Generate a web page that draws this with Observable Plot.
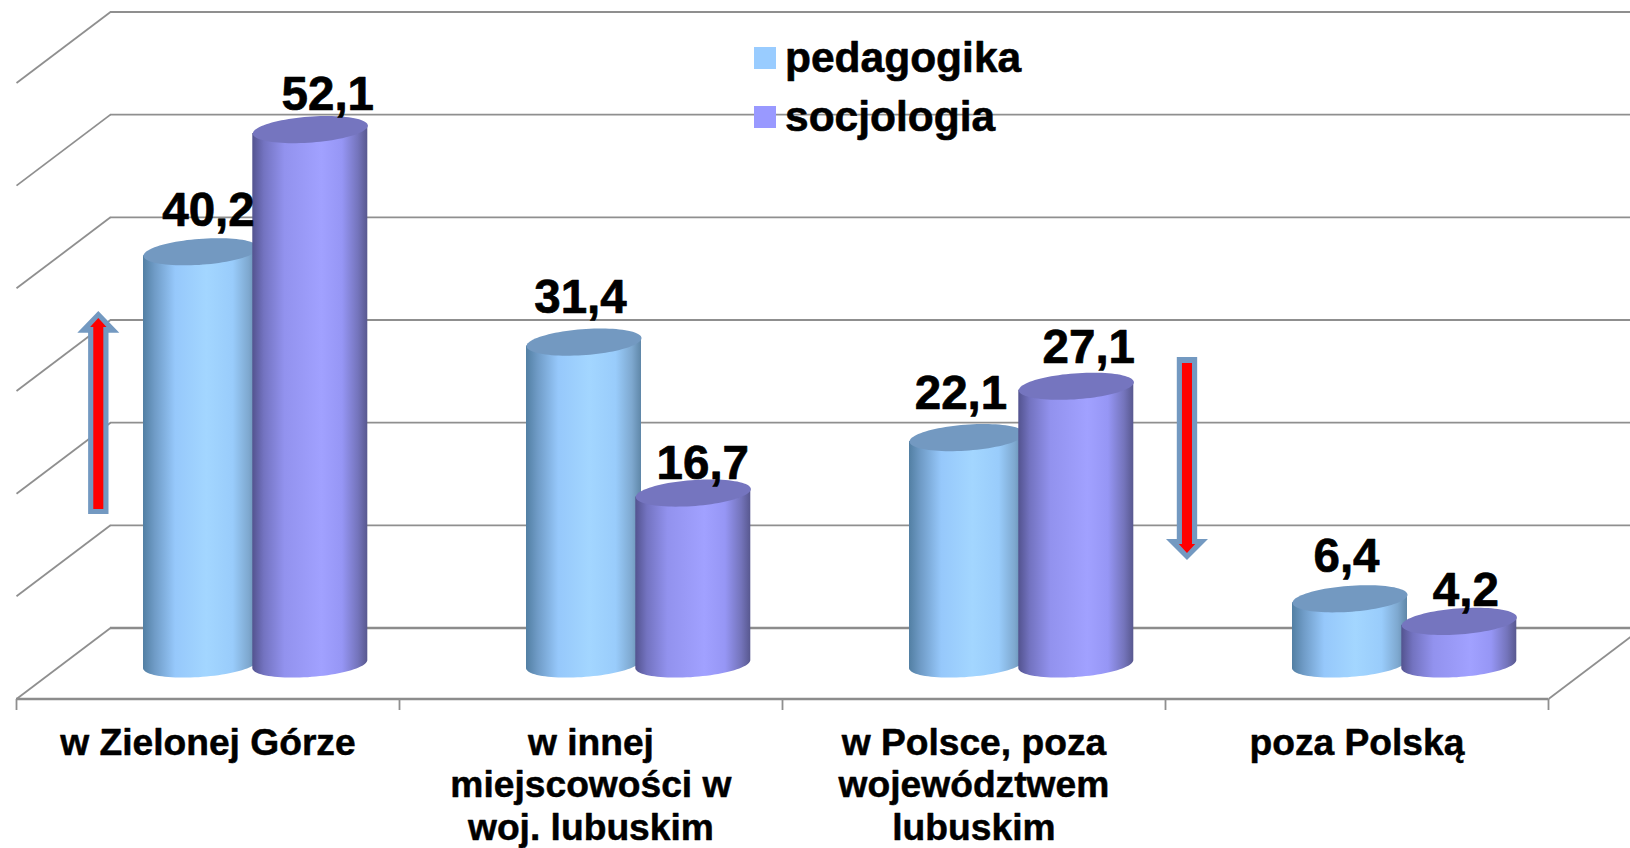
<!DOCTYPE html>
<html><head><meta charset="utf-8">
<script src="https://cdn.jsdelivr.net/npm/d3@7"></script>
<script src="https://cdn.jsdelivr.net/npm/@observablehq/plot@0.6"></script>
<style>html,body{margin:0;padding:0;background:#fff;overflow:hidden}</style>
</head><body><div id="chart"></div>
<script>
const categories = ["w Zielonej Górze","w innej miejscowości w woj. lubuskim","w Polsce, poza województwem lubuskim","poza Polską"];
const categoryLines = [["w Zielonej Górze"],["w innej","miejscowości w","woj. lubuskim"],["w Polsce, poza","województwem","lubuskim"],["poza Polską"]];
const seriesNames = ["pedagogika","socjologia"];
const pedagogika = [40.2,31.4,22.1,6.4];
const socjologia = [52.1,16.7,27.1,4.2];
const valueTicks = [0,10,20,30,40,50,60];

// layout (separate from the data)
const W=1630,H=848, catPx=383, x0Px=16, y0Px=627.5, unitPx=10.267;
const depthX=94/catPx, depthY=71/unitPx;
const barW=115/catPx, barStart=[127/catPx,236.3/catPx];
const shearY=4/unitPx, bulgeY=13/unitPx, baseDrop=36.5/unitPx;
const labelNudge=[[[7.5,-9],[17.5,-3]],[[-3.5,-12],[9.5,3]],[[-6,-12],[12.5,-6]],[[-3.5,-10],[6.5,2]]];

const ts=d3.range(0,361,4).map(d=>d*Math.PI/180);
function capRing(c,s,v){const cx=c+barStart[s]+barW/2;
  return ts.map(t=>({x:cx+barW/2*Math.cos(t),y:v-baseDrop+shearY*Math.cos(t)+bulgeY*Math.sin(t)}));}
function body(c,s,v){const cx=c+barStart[s]+barW/2;
  return d3.range(0,181,4).map(a=>{const t=a*Math.PI/180; const sh=shearY*Math.cos(t), b=bulgeY*Math.sin(t);
    return {x:cx+barW/2*Math.cos(t),y1:v-baseDrop+sh,y2:-baseDrop+sh-b};});}

const fills=[{grad:"gradBlue",top:"#7399c1",flat:"#99ccff"},{grad:"gradPurple",top:"#7575bf",flat:"#9999ff"}];
const defs=()=>{const d=d3.create("svg:defs");
  const mk=(id,stops)=>{const g=d.append("linearGradient").attr("id",id);
    stops.forEach(([o,c])=>g.append("stop").attr("offset",o).attr("stop-color",c));};
  mk("gradBlue",[[0,"#527fa3"],[.1,"#6f9bc6"],[.28,"#96c8fb"],[.55,"#a3d6ff"],[.78,"#99ccfb"],[.92,"#7ea8cf"],[1,"#5f87a8"]]);
  mk("gradPurple",[[0,"#53538f"],[.1,"#7373c0"],[.28,"#9292ee"],[.6,"#a1a1ff"],[.78,"#9696f5"],[.92,"#7474bb"],[1,"#58588f"]]);
  return d.node();};

const marks=[defs];
const rightEdge=(W-x0Px)/catPx;
const gridStyle={stroke:"#8f8f8f",strokeWidth:1.8};
const floorStyle={stroke:"#8c8c8c",strokeWidth:2.6};
marks.push(Plot.ruleY(valueTicks.filter(v=>v>0),{x1:depthX,x2:rightEdge,...gridStyle}));
marks.push(Plot.ruleY([0],{x1:depthX,x2:rightEdge,...floorStyle}));
marks.push(Plot.link(valueTicks,{x1:0,y1:v=>v-depthY,x2:depthX,y2:v=>v,...gridStyle}));
marks.push(Plot.ruleY([-depthY],{x1:0,x2:4,...floorStyle}));
marks.push(Plot.link([0,1,2,3,4],{x1:d=>d,x2:d=>d,y1:-depthY,y2:-depthY-11/unitPx,...gridStyle}));
marks.push(Plot.link([4],{x1:4,y1:-depthY,x2:rightEdge,y2:-depthY+(W-x0Px-4*catPx)*(71/94)/unitPx,...gridStyle}));

// cylinders
categories.forEach((_,c)=>{
  [pedagogika,socjologia].forEach((vals,s)=>{
    marks.push(Plot.areaY(body(c,s,vals[c]),{x:"x",y1:"y1",y2:"y2",fill:`url(#${fills[s].grad})`}));
    marks.push(Plot.line(capRing(c,s,vals[c]),{x:"x",y:"y",fill:fills[s].top,stroke:"none"}));
  });
});

// value labels
const heavy={fill:"#000",stroke:"#000",strokeWidth:0.7,fontWeight:700};
categories.forEach((_,c)=>{
  [pedagogika,socjologia].forEach((vals,s)=>{
    const v=vals[c];
    marks.push(Plot.text([v],{x:c+barStart[s]+barW/2,y:v-baseDrop+bulgeY+shearY,text:d=>String(d).replace(".",","),
      dx:labelNudge[c][s][0],dy:labelNudge[c][s][1],textAnchor:"middle",lineAnchor:"bottom",fontSize:47.5,...heavy}));
  });
});

// category labels
categoryLines.forEach((lines,c)=>{
  lines.forEach((t,i)=>{
    marks.push(Plot.text([t],{x:c+0.4815,y:-depthY,text:d=>d,dy:44+42.5*i,dx:7,
      lineAnchor:"middle",textAnchor:"middle",fontSize:37.2,...heavy,strokeWidth:0.5}));
  });
});

// red arrows
function arrow(cx,end,base,tip,hs,hh,fill){
  const pts=[{y:tip,h:0},{y:base,h:hh},{y:base,h:hs},{y:end,h:hs}];
  return Plot.areaX(pts,{y:"y",x1:d=>cx-d.h,x2:d=>cx+d.h,fill});}
marks.push(arrow(.2149,11.05,28.71,30.83,.0266,.0548,"#7399c1"));
marks.push(arrow(.2149,11.54,29.27,30.15,.0131,.0214,"#ff0000"));
marks.push(arrow(3.0574,26.35,8.62,6.57,.0266,.0548,"#7399c1"));
marks.push(arrow(3.0574,25.76,8.13,7.26,.0131,.0214,"#ff0000"));

// legend
seriesNames.forEach((n,i)=>{
  const yv=(y0Px-(58+59*i))/unitPx;
  marks.push(Plot.rect([n],{x1:(754-x0Px)/catPx,x2:(776-x0Px)/catPx,y1:yv-11/unitPx,y2:yv+11/unitPx,fill:fills[i].flat}));
  marks.push(Plot.text([n],{x:(784.5-x0Px)/catPx,y:yv,text:d=>d,textAnchor:"start",lineAnchor:"middle",fontSize:42.5,...heavy,strokeWidth:0.6}));
});

const chart=Plot.plot({width:W,height:H,margin:0,
  style:{fontFamily:"'Liberation Sans',Arial,sans-serif",background:"#fff"},
  x:{domain:[0,4],range:[x0Px,x0Px+4*catPx],axis:null},
  y:{domain:[0,60],range:[y0Px,y0Px-60*unitPx],axis:null},
  marks});
document.getElementById("chart").appendChild(chart);
</script></body></html>
